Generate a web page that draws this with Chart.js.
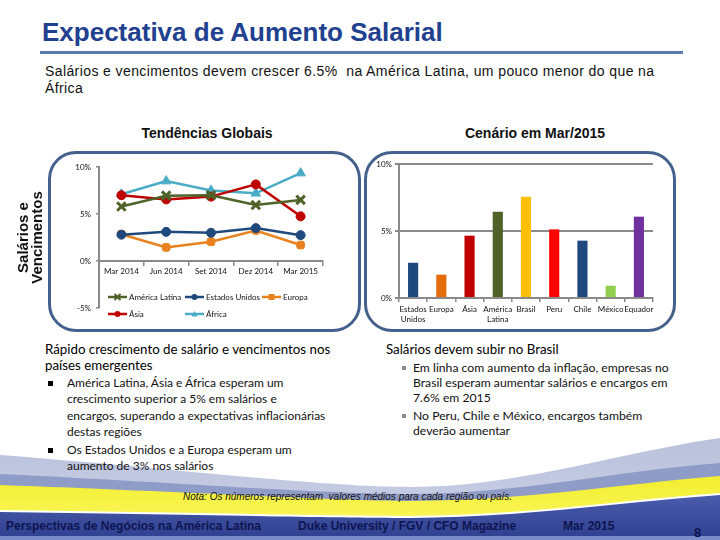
<!DOCTYPE html>
<html><head><meta charset="utf-8">
<script src="https://cdn.jsdelivr.net/npm/chart.js@4.4.1/dist/chart.umd.min.js"></script>
<style>
html,body{margin:0;padding:0;background:#fff;}
#slide{position:relative;width:720px;height:540px;overflow:hidden;font-family:"Liberation Sans",Arial,sans-serif;background:#fff;}
.abs{position:absolute;white-space:nowrap;}
.box{position:absolute;border:3px solid #44618d;border-radius:28px;box-sizing:border-box;}
.body{font-family:Lato,"Open Sans",sans-serif;color:#111;}
.head{font-family:Lato,"Open Sans",sans-serif;color:#000;font-size:13.3px;line-height:16px;}
.sq{position:absolute;width:5px;height:5px;background:#000;}
.sq2{position:absolute;width:4px;height:4px;background:#8a8a8a;}
canvas{position:absolute;}
</style></head><body>
<div id="slide">
<svg class="abs" style="left:0;top:0" width="720" height="540">
  <defs>
    <linearGradient id="gLav" x1="0" y1="0" x2="0" y2="1"><stop offset="0" stop-color="#b9c1dc"/><stop offset="1" stop-color="#cdd3e7"/></linearGradient>
    <linearGradient id="gYel" x1="0" y1="0" x2="0" y2="1"><stop offset="0" stop-color="#f2ee2e"/><stop offset="0.7" stop-color="#faf65a"/><stop offset="1" stop-color="#fbf9a8"/></linearGradient>
    <linearGradient id="gBlu" x1="0" y1="0" x2="0" y2="1"><stop offset="0" stop-color="#4a5cab"/><stop offset="1" stop-color="#2f3f8f"/></linearGradient>
  </defs>
  <path d="M0,455 C170,468 320,487 410,487 C520,487 620,452 720,438 L720,540 L0,540 Z" fill="url(#gLav)"/>
  <path d="M0,474 C170,482 320,494 410,494 C520,494 620,470 720,463 L720,540 L0,540 Z" fill="#8f9cc7"/>
  <path d="M0,485 C170,491 320,500 410,501 C520,501 620,484 720,476 L720,540 L0,540 Z" fill="url(#gYel)"/>
  <path d="M0,510 C170,512 320,516 410,516 C520,516 620,500 720,493 L720,540 L0,540 Z" fill="#ffffff"/>
  <path d="M0,512 C170,514 320,518 410,518 C520,518 620,502 720,495 L720,540 L0,540 Z" fill="url(#gBlu)"/>
  <rect x="0" y="536" width="720" height="4" fill="#7b8ccb"/>
</svg>

<div class="abs" style="left:42px;top:19px;font-size:26px;line-height:26px;font-weight:bold;color:#21408f;">Expectativa de Aumento Salarial</div>
<div class="abs" style="left:40px;top:51px;width:643px;height:3px;background:#5b7bae;"></div>
<div class="abs" style="left:45px;top:63px;font-size:14px;line-height:17px;letter-spacing:0.4px;color:#111;">Salários e vencimentos devem crescer 6.5%&nbsp; na América Latina, um pouco menor do que na<br>África</div>

<div class="abs" style="left:0;width:414px;top:125px;text-align:center;font-size:14px;font-weight:bold;color:#111;">Tendências Globais</div>
<div class="abs" style="left:364px;width:342px;top:125px;text-align:center;font-size:14px;font-weight:bold;color:#111;">Cenário em Mar/2015</div>

<div class="box" style="left:48px;top:151px;width:313px;height:181px;"></div>
<div class="box" style="left:364px;top:151px;width:312px;height:181px;"></div>

<canvas id="lineChart" width="340" height="180" style="left:10px;top:150px;"></canvas>
<canvas id="barChart" width="300" height="182" style="left:365px;top:150px;"></canvas>

<div class="abs head" style="left:45px;top:341px;">Rápido crescimento de salário e vencimentos nos<br>países emergentes</div>
<div class="sq" style="left:48px;top:381px;"></div>
<div class="abs body" style="left:67px;top:375px;font-size:12px;line-height:16.3px;">América Latina, Ásia e África esperam um<br>crescimento superior a 5% em salários e<br>encargos, superando a expectativas inflacionárias<br>destas regiões</div>
<div class="sq" style="left:48px;top:448px;"></div>
<div class="abs body" style="left:67px;top:442px;font-size:12px;line-height:16.3px;">Os Estados Unidos e a Europa esperam um<br>aumento de 3% nos salários</div>

<div class="abs head" style="left:386px;top:341px;">Salários devem subir no Brasil</div>
<div class="sq2" style="left:402px;top:366px;"></div>
<div class="abs body" style="left:413px;top:360px;font-size:12.2px;line-height:15px;">Em linha com aumento da inflação, empresas no<br>Brasil esperam aumentar salários e encargos em<br>7.6% em 2015</div>
<div class="sq2" style="left:402px;top:414px;"></div>
<div class="abs body" style="left:413px;top:408px;font-size:12.2px;line-height:15px;">No Peru, Chile e México, encargos também<br>deverão aumentar</div>

<div class="abs" style="left:183px;top:491px;font-size:10px;font-style:italic;color:#111;">Nota: Os números representam&nbsp; valores médios para cada região ou país.</div>
<div class="abs" style="left:6px;top:519px;font-size:12px;font-weight:bold;color:#0d1550;">Perspectivas de Negócios na América Latina</div>
<div class="abs" style="left:298px;top:519px;font-size:12px;font-weight:bold;color:#0d1550;">Duke University / FGV / CFO Magazine</div>
<div class="abs" style="left:563px;top:519px;font-size:12px;font-weight:bold;color:#0d1550;">Mar 2015</div>
<div class="abs" style="left:694px;top:525px;font-size:13px;font-weight:bold;color:#0d1550;">8</div>
</div>

<script>
// ---- data ----
const periods = ['Mar 2014', 'Jun 2014', 'Set 2014', 'Dez 2014', 'Mar 2015'];
const americaLatina = [5.8, 6.95, 7.0, 5.95, 6.5];
const estadosUnidos = [2.8, 3.1, 3.0, 3.5, 2.75];
const europa = [2.85, 1.45, 2.05, 3.25, 1.7];
const asia = [7.0, 6.55, 6.85, 8.15, 4.75];
const africa = [7.1, 8.5, 7.5, 7.2, 9.35];
const seriesNames = ['América Latina', 'Estados Unidos', 'Europa', 'Ásia', 'África'];

const regions = [['Estados', 'Unidos'], 'Europa', 'Ásia', ['América', 'Latina'], 'Brasil', 'Peru', 'Chile', 'México', 'Equador'];
const mar2015 = [2.63, 1.74, 4.65, 6.44, 7.56, 5.12, 4.28, 0.92, 6.07];

const pct = v => v + '%';
Chart.defaults.font.family = 'Lato, "Open Sans", sans-serif';
Chart.defaults.color = '#111';
Chart.defaults.animation = false;

const AXIS = '#8a8a8a';

function drawMarker(ctx, style, x, y, r, color) {
  ctx.save();
  ctx.fillStyle = color; ctx.strokeStyle = color;
  ctx.beginPath();
  if (style === 'circle') { ctx.arc(x, y, r, 0, Math.PI * 2); ctx.fill(); }
  else if (style === 'rectRounded' || style === 'rect') { ctx.fillRect(x - r, y - r, 2 * r, 2 * r); }
  else if (style === 'triangle') { ctx.moveTo(x, y - r); ctx.lineTo(x + r, y + r * 0.8); ctx.lineTo(x - r, y + r * 0.8); ctx.closePath(); ctx.fill(); }
  else if (style === 'crossRot') { ctx.lineWidth = 2; ctx.moveTo(x - r, y - r); ctx.lineTo(x + r, y + r); ctx.moveTo(x + r, y - r); ctx.lineTo(x - r, y + r); ctx.stroke(); }
  ctx.restore();
}

const insideLegend = {
  id: 'insideLegend',
  afterDraw(chart) {
    const {ctx, chartArea} = chart;
    chart.data.datasets.forEach((ds, i) => {
      const col = i % 3, row = Math.floor(i / 3);
      const x = chartArea.left + 9 + col * 77;
      const y = chartArea.bottom - 11 + row * 17;
      ctx.save();
      ctx.strokeStyle = ds.borderColor; ctx.lineWidth = 2.5;
      ctx.beginPath(); ctx.moveTo(x, y); ctx.lineTo(x + 19, y); ctx.stroke();
      drawMarker(ctx, ds.pointStyle, x + 9.5, y, 3, ds.borderColor);
      ctx.fillStyle = '#111'; ctx.font = '8px Lato, sans-serif';
      ctx.textBaseline = 'middle'; ctx.textAlign = 'left';
      ctx.fillText(ds.label, x + 21, y);
      ctx.restore();
    });
  }
};

const mk = (label, data, color, style, radius, bw) => ({
  label, data, borderColor: color, backgroundColor: color,
  pointBackgroundColor: color, pointBorderColor: color,
  pointStyle: style, pointRadius: radius, pointBorderWidth: bw,
  borderWidth: 2.5, tension: 0, fill: false
});

new Chart(document.getElementById('lineChart'), {
  type: 'line',
  data: {
    labels: periods,
    datasets: [
      mk(seriesNames[0], americaLatina, '#4f6228', 'crossRot', 6, 3),
      mk(seriesNames[1], estadosUnidos, '#1f497d', 'circle', 4.5, 1),
      mk(seriesNames[2], europa, '#e8821e', 'rectRounded', 4.5, 1),
      mk(seriesNames[3], asia, '#c00000', 'circle', 4.5, 1),
      mk(seriesNames[4], africa, '#4bacc6', 'triangle', 5.5, 1)
    ]
  },
  options: {
    responsive: false,
    layout: {padding: {left: 0, right: 27, top: 17, bottom: 22}},
    plugins: {legend: {display: false}, tooltip: {enabled: false}},
    scales: {
      x: {
        position: {y: 0},
        offset: true,
        grid: {display: true, drawOnChartArea: false, offset: true, tickLength: 4, color: AXIS, lineWidth: 1.5},
        border: {display: true, color: AXIS, width: 2},
        ticks: {font: {size: 8}, padding: 2, maxRotation: 0, autoSkip: false}
      },
      y: {
        min: -5, max: 10,
        afterFit: s => { s.width = 89; },
        grid: {display: true, drawOnChartArea: false, tickLength: 3, color: AXIS, lineWidth: 1.5},
        border: {display: true, color: AXIS, width: 2},
        ticks: {stepSize: 5, font: {size: 8}, padding: 5, callback: pct},
        title: {display: true, text: ['Salários e', 'Vencimentos'], padding: {top: 7, bottom: 0},
                font: {family: '"Liberation Sans", Arial, sans-serif', size: 15, weight: 'bold', lineHeight: '14px'}, color: '#111'}
      }
    }
  },
  plugins: [insideLegend]
});

new Chart(document.getElementById('barChart'), {
  type: 'bar',
  data: {
    labels: regions,
    datasets: [{
      label: 'Mar/2015',
      data: mar2015,
      backgroundColor: ['#1f497d', '#e46c0a', '#c00000', '#4f6228', '#ffc000', '#ff0000', '#1f497d', '#92d050', '#7030a0'],
      categoryPercentage: 1, barPercentage: 0.36, borderWidth: 0
    }]
  },
  options: {
    responsive: false,
    layout: {padding: {left: 0, right: 12, top: 14, bottom: 0}},
    plugins: {legend: {display: false}, tooltip: {enabled: false}},
    scales: {
      x: {
        afterFit: s => { s.height = 34; },
        grid: {display: true, drawOnChartArea: false, offset: true, tickLength: 4, color: AXIS, lineWidth: 1.5},
        border: {display: true, color: AXIS, width: 2},
        ticks: {font: {size: 8}, padding: 3, maxRotation: 0, autoSkip: false}
      },
      y: {
        min: 0, max: 10,
        afterFit: s => { s.width = 34; },
        grid: {display: true, drawOnChartArea: true, tickLength: 4, color: AXIS, lineWidth: 2},
        border: {display: true, color: AXIS, width: 2},
        ticks: {stepSize: 5, font: {size: 8}, padding: 3, callback: pct}
      }
    }
  }
});
</script>
</body></html>
